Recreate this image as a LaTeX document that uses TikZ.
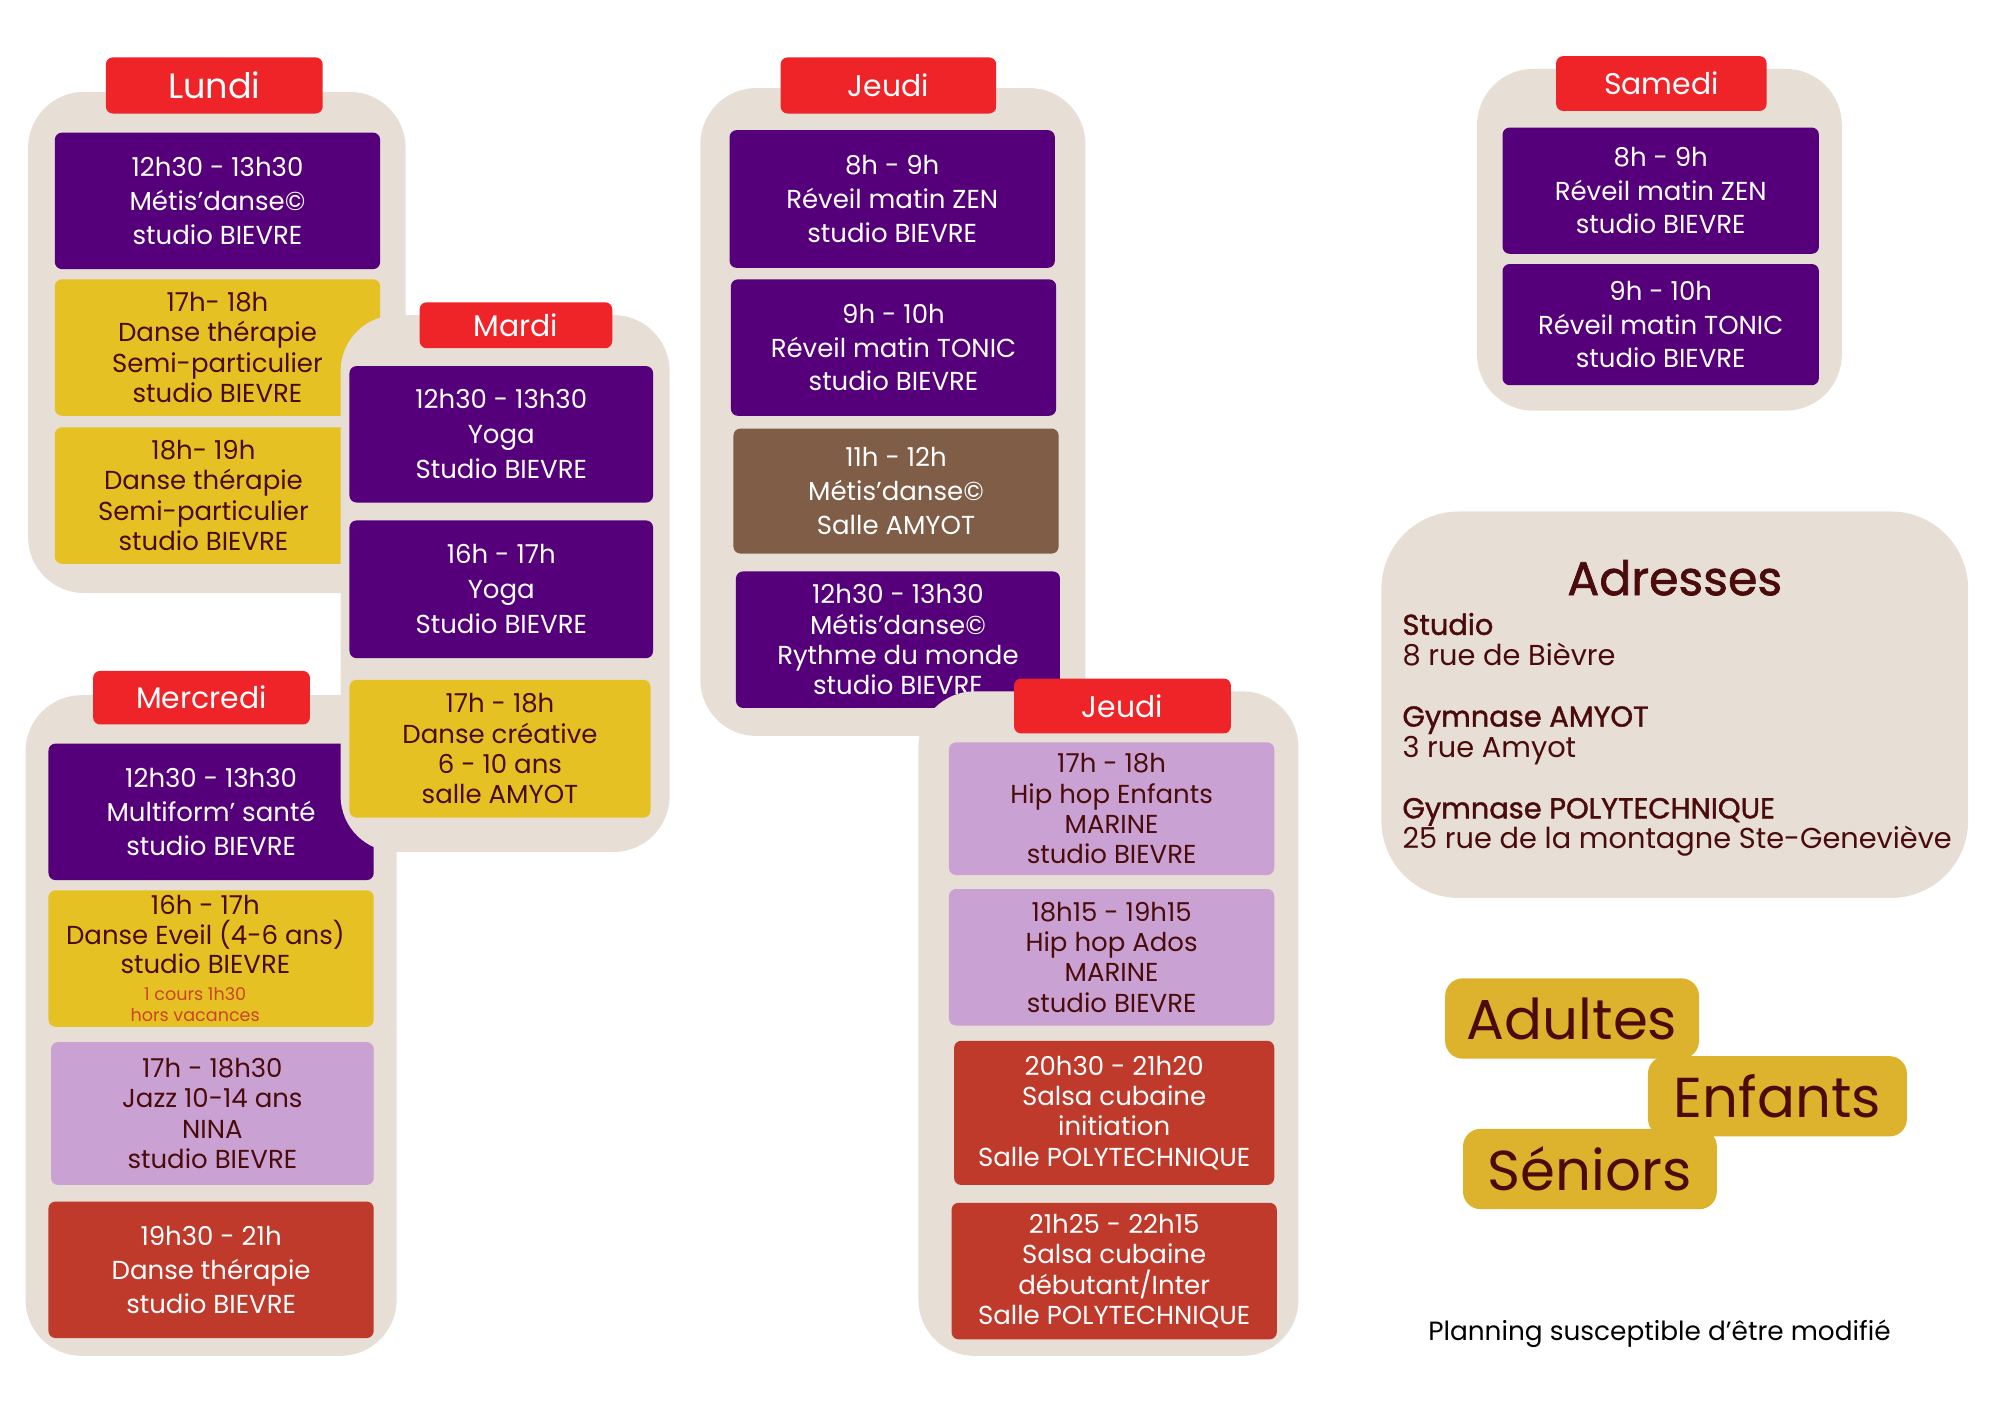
\documentclass[tikz,border=0pt]{standalone}
\usepackage{fontspec}
\setmainfont{Poppins}
\newfontfamily\demigras{Poppins}[FakeBold=1.4]
\usepackage{tikz}
\usetikzlibrary{positioning}

\definecolor{cJour}{HTML}{EE2429}
\definecolor{cBeige}{HTML}{E7DED6}
\definecolor{cViolet}{HTML}{55007A}
\definecolor{cJaune}{HTML}{E6C124}
\definecolor{cLilas}{HTML}{C9A1D3}
\definecolor{cRouge}{HTML}{BF3A2B}
\definecolor{cBrun}{HTML}{7F5D47}
\definecolor{cOr}{HTML}{DDB32D}
\definecolor{cTexte}{HTML}{4A0B0B}
\definecolor{cNote}{HTML}{C9452A}

\newcommand{\unitpx}{0.012755cm}

\tikzset{
	dims/.style 2 args={minimum width=#1*\unitpx, minimum height=#2*\unitpx},
	panneau/.style={fill=cBeige, rounded corners=16pt},
	jour/.style={fill=cJour, text=white, rounded corners=2pt, inner sep=0pt, font=\fontsize{8.5}{10}\selectfont},
	cours/.style={inner sep=0pt, align=center, rounded corners=2pt, font=\fontsize{7.4}{9.6}\selectfont},
	cours4/.style={cours, font=\fontsize{7.4}{8.6}\selectfont},
	sombre/.style={fill=cViolet, text=white},
	jaune/.style={fill=cJaune, text=cTexte},
	lilas/.style={fill=cLilas, text=cTexte},
	rouge/.style={fill=cRouge, text=white},
	brun/.style={fill=cBrun, text=white},
	public/.style={fill=cOr, text=cTexte, rounded corners=5pt, inner sep=0pt, font=\fontsize{16}{18}\selectfont}
}

\begin{document}
\begin{tikzpicture}[x=0.012755cm, y=-0.012755cm]
	\useasboundingbox (0,0) rectangle (1568,1109);

	% Lundi
	\fill[panneau] (22,72) rectangle (318,465);
	\node[jour, dims={170}{44}, font=\fontsize{10}{11}\selectfont] (lundi) at (168,67) {Lundi};
	\node[cours, sombre, dims={255}{107}] (lun1) at (170.5,157.5) {12h30 - 13h30\\Métis’danse©\\studio BIEVRE};
	\node[cours4, jaune, dims={255}{107}] (lun2) at (170.5,272.5) {17h- 18h\\Danse thérapie\\Semi-particulier\\studio BIEVRE};
	\node[cours4, jaune, dims={233}{107}] (lun3) at (159.5,388.5) {18h- 19h\\Danse thérapie\\Semi-particulier\\studio BIEVRE};

	% Mercredi
	\fill[panneau] (20,545) rectangle (311,1063);
	\node[jour, dims={170}{42}] (mercredi) at (158,547) {Mercredi};
	\node[cours, sombre, dims={255}{107}] (mer1) at (165.5,636.5) {12h30 - 13h30\\Multiform’ santé\\studio BIEVRE};
	\node[cours, jaune, dims={255}{107}] (mer2) at (165.5,751.5) {};
	\node[cours, text=cTexte, font=\fontsize{7.4}{8.4}\selectfont] (mer2txt) at (161,733) {16h - 17h\\Danse Eveil (4-6 ans)\\studio BIEVRE};
	\node[cours, text=cNote, font=\fontsize{5}{6.2}\selectfont] (mer2note) at (153,787.5) {1 cours 1h30\\hors vacances};
	\node[cours4, lilas, dims={253}{112}] (mer3) at (166.5,873) {17h - 18h30\\Jazz 10-14 ans\\NINA\\studio BIEVRE};
	\node[cours, rouge, dims={255}{107}] (mer4) at (165.5,995.5) {19h30 - 21h\\Danse thérapie\\studio BIEVRE};

	% Mardi
	\fill[panneau] (267,247) rectangle (525,668);
	\node[jour, dims={151}{36}] (mardi) at (404.5,255) {Mardi};
	\node[cours, sombre, dims={238}{107}, font=\fontsize{7.4}{10}\selectfont] (mar1) at (393,340.5) {12h30 - 13h30\\Yoga\\Studio BIEVRE};
	\node[cours, sombre, dims={238}{108}, font=\fontsize{7.4}{10}\selectfont] (mar2) at (393,462) {16h - 17h\\Yoga\\Studio BIEVRE};
	\node[cours4, jaune, dims={236}{108}] (mar3) at (392,587) {17h - 18h\\Danse créative\\6 - 10 ans\\salle AMYOT};

	% Jeudi matin
	\fill[panneau] (549,69) rectangle (851,577);
	\node[jour, dims={169}{44}] (jeudi) at (696.5,67) {Jeudi};
	\node[cours, sombre, dims={255}{108}] (jeu1) at (699.5,156) {8h - 9h\\Réveil matin ZEN\\studio BIEVRE};
	\node[cours, sombre, dims={255}{107}] (jeu2) at (700.5,272.5) {9h - 10h\\Réveil matin TONIC\\studio BIEVRE};
	\node[cours, brun, dims={255}{98}] (jeu3) at (702.5,385) {11h - 12h\\Métis'danse©\\Salle AMYOT};
	\node[cours4, sombre, dims={254}{107}] (jeu4) at (704,501.5) {12h30 - 13h30\\Métis’danse©\\Rythme du monde\\studio BIEVRE};

	% Jeudi soir
	\fill[panneau] (720,542) rectangle (1018,1063);
	\node[jour, dims={170}{43}] (jeudisoir) at (880,553.5) {Jeudi};
	\node[cours4, lilas, dims={255}{104}] (jv1) at (871.5,634) {17h - 18h\\Hip hop Enfants\\MARINE\\studio BIEVRE};
	\node[cours4, lilas, dims={255}{107}] (jv2) at (871.5,750.5) {18h15 - 19h15\\Hip hop Ados\\MARINE\\studio BIEVRE};
	\node[cours4, rouge, dims={251}{113}] (jv3) at (873.5,872.5) {20h30 - 21h20\\Salsa cubaine\\initiation\\Salle POLYTECHNIQUE};
	\node[cours4, rouge, dims={255}{107}] (jv4) at (873.5,996.5) {21h25 - 22h15\\Salsa cubaine\\débutant/Inter\\Salle POLYTECHNIQUE};

	% Samedi
	\fill[panneau] (1158,54) rectangle (1444,322);
	\node[jour, dims={165}{43}] (samedi) at (1302.5,65.5) {Samedi};
	\node[cours, sombre, dims={248}{99}] (sam1) at (1302,149.5) {8h - 9h\\Réveil matin ZEN\\studio BIEVRE};
	\node[cours, sombre, dims={248}{95}] (sam2) at (1302,254.5) {9h - 10h\\Réveil matin TONIC\\studio BIEVRE};

	% Adresses
	\fill[panneau, rounded corners=22pt] (1083,401) rectangle (1543,704);
	\node[text=cTexte, font=\demigras\fontsize{13.5}{15}\selectfont] (adresses) at (1313,453) {Adresses};
	\node[anchor=north west, inner sep=0pt, align=left, text=cTexte, font=\fontsize{8.2}{8.7}\selectfont] (lieux) at (1099,480)
		{{\demigras Studio}\\8 rue de Bièvre\\[8.7pt]{\demigras Gymnase AMYOT}\\3 rue Amyot\\[8.7pt]{\demigras Gymnase POLYTECHNIQUE}\\25 rue de la montagne Ste-Geneviève};

	% Publics
	\node[public, dims={199}{63}] (adultes) at (1232.5,798.5) {Adultes};
	\node[public, dims={203}{63}] (enfants) at (1393.5,859.5) {Enfants};
	\node[public, dims={199}{63}] (seniors) at (1246.5,916.5) {Séniors};

	\node[font=\fontsize{7.5}{9}\selectfont] (note) at (1301,1046) {Planning susceptible d’être modifié};
\end{tikzpicture}
\end{document}
